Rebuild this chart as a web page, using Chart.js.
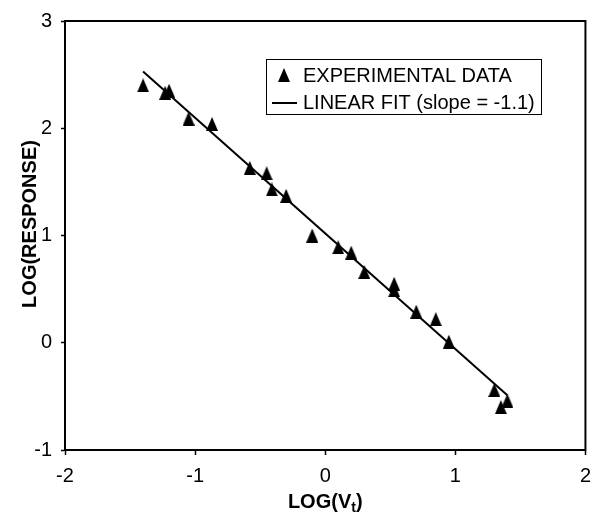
<!DOCTYPE html>
<html>
<head>
<meta charset="utf-8">
<script src="https://cdn.jsdelivr.net/npm/chart.js@4"></script>
<style>
    html, body { margin: 0; padding: 0; background: #fff; }
    #wrap { width: 600px; height: 513px; }
</style>
</head>
<body>
<div id="wrap"><canvas id="chart" width="600" height="513"></canvas></div>
<script>
// 实验数据 (log Vt, log response)
const expX = [-1.40, -1.23, -1.20, -1.05, -0.87, -0.58, -0.45, -0.41, -0.30, -0.10, 0.10, 0.20, 0.30, 0.53, 0.53, 0.70, 0.85, 0.95, 1.30, 1.35, 1.40];
const expY = [2.40, 2.33, 2.35, 2.09, 2.04, 1.63, 1.58, 1.43, 1.37, 1.00, 0.89, 0.84, 0.66, 0.55, 0.49, 0.29, 0.22, 0.01, -0.44, -0.60, -0.54];

// 线性拟合端点
const fitX = [-1.40, 1.40];
const fitY = [2.53, -0.49];

const xTicks = [-2, -1, 0, 1, 2];
const yTicks = [-1, 0, 1, 2, 3];

const legendLabels = ['EXPERIMENTAL DATA', 'LINEAR FIT (slope = -1.1)'];

const FONT = '"Liberation Sans", Arial, sans-serif';

function makeTriangle(w, h) {
    const c = document.createElement('canvas');
    c.width = w;
    c.height = h;
    const g = c.getContext('2d');
    g.fillStyle = '#000';
    g.beginPath();
    g.moveTo(w / 2, 0);
    g.lineTo(w, h);
    g.lineTo(0, h);
    g.closePath();
    g.fill();
    return c;
}

const tri = makeTriangle(12, 14);

const framePlugin = {
    id: 'frame',
    afterDraw(chart) {
        const { ctx, chartArea: a } = chart;
        ctx.save();
        ctx.strokeStyle = '#000';
        ctx.lineWidth = 2;
        ctx.strokeRect(a.left, a.top, a.right - a.left, a.bottom - a.top);

        // 图例
        ctx.lineWidth = 1;
        ctx.strokeRect(266.5, 59.5, 275, 55);
        ctx.drawImage(tri, 278, 68);
        ctx.lineWidth = 2;
        ctx.beginPath();
        ctx.moveTo(272, 103);
        ctx.lineTo(297, 103);
        ctx.stroke();
        ctx.fillStyle = '#000';
        ctx.font = '20px ' + FONT;
        ctx.textBaseline = 'middle';
        ctx.textAlign = 'left';
        ctx.fillText(legendLabels[0], 303, 76);
        ctx.fillText(legendLabels[1], 303, 103);

        // 坐标轴标题
        ctx.font = 'bold 20px ' + FONT;
        ctx.textAlign = 'center';
        ctx.save();
        ctx.translate(30, 224);
        ctx.rotate(-Math.PI / 2);
        ctx.fillText('LOG(RESPONSE)', 0, 0);
        ctx.restore();

        const main = 'LOG(V';
        const sub = 't';
        const close = ')';
        ctx.font = 'bold 20px ' + FONT;
        const w1 = ctx.measureText(main).width;
        const w3 = ctx.measureText(close).width;
        ctx.font = 'bold 14px ' + FONT;
        const w2 = ctx.measureText(sub).width;
        let x = (a.left + a.right) / 2 - (w1 + w2 + w3) / 2;
        ctx.textAlign = 'left';
        ctx.textBaseline = 'alphabetic';
        ctx.font = 'bold 20px ' + FONT;
        ctx.fillText(main, x, 508);
        x += w1;
        ctx.font = 'bold 14px ' + FONT;
        ctx.fillText(sub, x, 512);
        x += w2;
        ctx.font = 'bold 20px ' + FONT;
        ctx.fillText(close, x, 508);
        ctx.restore();
    }
};

new Chart(document.getElementById('chart').getContext('2d'), {
    type: 'scatter',
    data: {
        datasets: [{
            label: legendLabels[0],
            data: expX.map((x, i) => ({ x, y: expY[i] })),
            pointStyle: tri,
            pointRadius: 7,
            backgroundColor: '#000',
            borderColor: '#000'
        }, {
            label: legendLabels[1],
            data: fitX.map((x, i) => ({ x, y: fitY[i] })),
            showLine: true,
            borderColor: '#000',
            borderWidth: 2,
            pointRadius: 0
        }]
    },
    options: {
        responsive: false,
        animation: false,
        layout: { padding: { top: 16, right: 12, left: 0, bottom: 0 } },
        plugins: { legend: { display: false }, tooltip: { enabled: false } },
        scales: {
            x: {
                type: 'linear',
                min: xTicks[0],
                max: xTicks[xTicks.length - 1],
                afterBuildTicks: s => { s.ticks = xTicks.map(v => ({ value: v })); },
                afterFit: s => { s.height = 63; },
                grid: { drawOnChartArea: false, drawTicks: true, tickLength: 5, tickColor: '#000', tickWidth: 1.5 },
                border: { display: true, color: '#000', width: 2 },
                ticks: { color: '#000', font: { family: FONT, size: 20 }, padding: 9 }
            },
            y: {
                type: 'linear',
                min: yTicks[0],
                max: yTicks[yTicks.length - 1],
                afterBuildTicks: s => { s.ticks = yTicks.map(v => ({ value: v })); },
                afterFit: s => { s.width = 65; },
                grid: { drawOnChartArea: false, drawTicks: true, tickLength: 4, tickColor: '#000', tickWidth: 1.5 },
                border: { display: true, color: '#000', width: 2 },
                ticks: { color: '#000', font: { family: FONT, size: 20 }, padding: 9 }
            }
        }
    },
    plugins: [framePlugin]
});
</script>
</body>
</html>
